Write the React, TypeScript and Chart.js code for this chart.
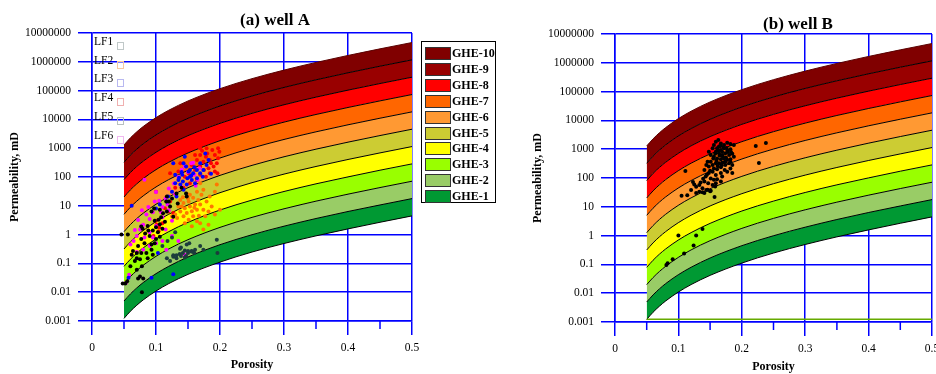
import React, { useEffect, useRef } from 'react';
import { Chart, registerables } from 'chart.js';

Chart.register(...registerables);

const SERIF = "'Liberation Serif', 'Times New Roman', serif";
const GRID = '#0000ff';

// ---- Axis ticks ----
const yTicks = [0.001, 0.01, 0.1, 1, 10, 100, 1000, 10000, 100000, 1000000, 10000000];
const xTicks = [0, 0.1, 0.2, 0.3, 0.4, 0.5];
const xMinorTicks = [0.05, 0.15, 0.25, 0.35, 0.45];

// ---- GHE boundary curves (porosity vs permeability, mD) ----
const porosity = [0.05, 0.06, 0.07, 0.08, 0.1, 0.12, 0.15, 0.2, 0.25, 0.3, 0.35, 0.4, 0.45, 0.5];
const gheBound0 = [0.00123, 0.00218, 0.00353, 0.00539, 0.011, 0.0199, 0.0416, 0.111, 0.248, 0.491, 0.904, 1.58, 2.68, 4.46];
const gheBound1 = [0.00494, 0.00871, 0.0141, 0.0216, 0.044, 0.0795, 0.167, 0.446, 0.99, 1.96, 3.62, 6.34, 10.7, 17.8];
const gheBound2 = [0.0198, 0.0349, 0.0566, 0.0863, 0.176, 0.318, 0.666, 1.78, 3.96, 7.86, 14.5, 25.4, 43.0, 71.3];
const gheBound3 = [0.079, 0.139, 0.226, 0.345, 0.704, 1.27, 2.66, 7.13, 15.8, 31.4, 57.9, 101, 172, 285];
const gheBound4 = [0.316, 0.558, 0.905, 1.38, 2.82, 5.09, 10.7, 28.5, 63.4, 126, 232, 406, 687, 1141];
const gheBound5 = [1.26, 2.23, 3.62, 5.52, 11.3, 20.4, 42.6, 114, 253, 503, 926, 1622, 2749, 4563];
const gheBound6 = [5.06, 8.92, 14.5, 22.1, 45.1, 81.5, 171, 456, 1014, 2011, 3704, 6490, 10996, 18252];
const gheBound7 = [20.2, 35.7, 57.9, 88.3, 180, 326, 682, 1825, 4056, 8046, 14818, 25958, 43986, 73008];
const gheBound8 = [80.9, 143, 232, 353, 721, 1303, 2728, 7301, 16224, 32184, 59270, 103834, 175943, 292032];
const gheBound9 = [324, 571, 927, 1413, 2884, 5213, 10913, 29203, 64896, 128735, 237082, 415334, 703771, 1168128];
const gheBound10 = [1294, 2284, 3706, 5652, 11537, 20852, 43651, 116813, 259584, 514940, 948326, 1661338, 2815085, 4672512];
const gheBounds = [gheBound0, gheBound1, gheBound2, gheBound3, gheBound4, gheBound5, gheBound6, gheBound7, gheBound8, gheBound9, gheBound10];

const gheLabels = ['GHE-1', 'GHE-2', 'GHE-3', 'GHE-4', 'GHE-5', 'GHE-6', 'GHE-7', 'GHE-8', 'GHE-9', 'GHE-10'];
const gheColors = ['#009933', '#99cc66', '#99ff00', '#ffff00', '#cccc33', '#ff9933', '#ff6600', '#ff0000', '#990000', '#800000'];

// ---- Well A lithofacies samples [porosity, permeability] ----
const lfLabels = ['LF1', 'LF2', 'LF3', 'LF4', 'LF5', 'LF6'];
const lfColors = ['#000000', '#ff7700', '#0000ff', '#ff0000', '#1c3c3c', '#ff00ff'];
const lfLegendColors = ['#c0c8c8', '#f8c8a0', '#b8b8f0', '#f0b0b0', '#b8c0c0', '#f0b8f0'];

const wellA_LF1 = [
  [0.046, 1.0], [0.056, 1.0], [0.048, 0.02], [0.052, 0.02], [0.055, 0.024], [0.078, 0.01], [0.075, 0.035],
  [0.072, 0.03], [0.07, 0.06], [0.067, 0.12], [0.07, 0.23], [0.072, 0.4], [0.077, 0.23], [0.064, 0.27],
  [0.075, 0.14], [0.07, 0.15], [0.078, 0.08], [0.085, 0.23], [0.093, 0.3], [0.098, 0.5], [0.1, 0.7],
  [0.106, 0.85], [0.1, 1.8], [0.095, 1.4], [0.106, 2.3], [0.098, 3], [0.088, 1.4], [0.083, 1.1], [0.077, 0.7],
  [0.093, 0.45], [0.114, 2.8], [0.104, 3.3], [0.111, 5.5], [0.117, 6.3], [0.106, 7.3], [0.122, 9.5],
  [0.132, 27], [0.14, 42], [0.148, 21], [0.117, 21], [0.09, 0.9], [0.082, 0.5], [0.103, 1.2], [0.11, 1.6],
  [0.087, 2], [0.079, 1.6], [0.095, 0.2], [0.06, 0.08], [0.062, 0.2], [0.087, 0.15], [0.08, 0.03],
  [0.108, 4], [0.12, 14], [0.125, 18], [0.097, 8], [0.093, 6.3], [0.116, 14], [0.077, 1.9], [0.134, 12],
  [0.147, 27], [0.127, 4.2]
];
const wellA_LF2 = [
  [0.138, 16], [0.143, 12.5], [0.145, 8.3], [0.148, 5.6], [0.151, 14], [0.153, 9.5], [0.156, 6.5], [0.158, 4.3],
  [0.161, 11], [0.164, 7.3], [0.166, 16], [0.169, 11], [0.171, 24], [0.174, 7.3], [0.179, 14], [0.184, 21],
  [0.177, 4.3], [0.169, 2.5], [0.164, 2.9], [0.156, 1.95], [0.151, 3.3], [0.143, 4.3], [0.138, 6.3], [0.133, 3.8],
  [0.145, 2.5], [0.14, 9.5], [0.135, 9.5], [0.13, 5], [0.125, 4.3], [0.192, 31], [0.187, 9.5], [0.182, 6.3],
  [0.195, 55], [0.169, 61], [0.164, 31], [0.153, 24], [0.148, 27], [0.158, 19], [0.174, 36], [0.192, 5],
  [0.2, 7.3], [0.182, 2.2], [0.174, 1.5], [0.16, 8.5], [0.15, 18], [0.167, 4.5], [0.142, 20]
];
const wellA_LF3 = [
  [0.143, 300], [0.147, 230], [0.151, 155], [0.141, 120], [0.135, 79], [0.153, 103], [0.158, 135], [0.164, 90],
  [0.169, 135], [0.174, 175], [0.179, 260], [0.182, 390], [0.169, 300], [0.161, 61], [0.148, 55], [0.138, 55],
  [0.13, 61], [0.125, 31], [0.119, 21], [0.117, 14], [0.106, 11], [0.132, 21], [0.143, 36], [0.153, 175],
  [0.127, 300], [0.145, 500], [0.156, 79], [0.149, 90], [0.142, 70], [0.164, 175], [0.173, 103], [0.177, 650],
  [0.13, 120], [0.062, 10], [0.127, 0.042], [0.093, 0.032], [0.057, 0.032], [0.103, 0.23], [0.1, 8],
  [0.14, 150], [0.155, 110], [0.16, 220], [0.136, 95], [0.186, 130]
];
const wellA_LF4 = [
  [0.169, 580], [0.172, 820], [0.174, 340], [0.178, 500], [0.18, 650], [0.184, 390], [0.188, 870], [0.192, 580],
  [0.195, 300], [0.197, 450], [0.199, 750], [0.19, 230], [0.182, 200], [0.175, 175], [0.169, 230], [0.164, 390],
  [0.161, 175], [0.156, 260], [0.151, 135], [0.145, 103], [0.192, 155], [0.196, 135], [0.197, 1000], [0.184, 135],
  [0.178, 103], [0.169, 120], [0.164, 79], [0.153, 61], [0.143, 42], [0.135, 155], [0.13, 42], [0.122, 14],
  [0.114, 8.3], [0.119, 6.3], [0.127, 5.6], [0.101, 2.2], [0.104, 1.3], [0.096, 0.9], [0.122, 135], [0.138, 300],
  [0.169, 1000], [0.179, 1000], [0.161, 580], [0.1, 31], [0.1, 3], [0.11, 2.5], [0.105, 1.8], [0.186, 300]
];
const wellA_LF5 = [
  [0.127, 0.19], [0.132, 0.19], [0.137, 0.21], [0.142, 0.23], [0.15, 0.23], [0.156, 0.27], [0.148, 0.45],
  [0.152, 0.5], [0.161, 0.3], [0.15, 0.27], [0.122, 0.12], [0.1375, 0.32], [0.139, 0.36], [0.145, 0.28],
  [0.147, 0.18], [0.158, 0.25], [0.169, 0.4], [0.195, 0.66], [0.196, 0.23], [0.127, 0.17], [0.117, 0.15],
  [0.155, 0.26], [0.16, 0.23], [0.174, 0.3], [0.139, 0.18], [0.132, 0.15], [0.145, 0.16], [0.118, 0.6],
  [0.125, 0.8], [0.13, 1.2], [0.11, 0.4]
];
const wellA_LF6 = [
  [0.145, 230], [0.15, 150], [0.14, 180], [0.135, 100], [0.128, 60], [0.12, 40], [0.155, 300], [0.16, 120],
  [0.165, 80], [0.13, 25], [0.115, 18], [0.11, 9], [0.105, 15], [0.095, 6], [0.09, 3.5], [0.085, 5], [0.08, 2.2],
  [0.075, 1.5], [0.07, 0.9], [0.065, 0.6], [0.082, 0.8], [0.09, 1.2], [0.1, 2], [0.11, 4], [0.12, 7], [0.125, 3],
  [0.115, 1.5], [0.1, 0.5], [0.09, 0.4], [0.08, 0.3], [0.07, 0.25], [0.06, 0.45], [0.053, 0.021], [0.058, 0.04],
  [0.145, 0.2], [0.135, 0.6], [0.125, 0.9], [0.11, 0.6], [0.095, 0.8], [0.088, 9], [0.1, 30], [0.078, 7],
  [0.082, 80], [0.098, 14], [0.072, 3.2], [0.067, 1.45], [0.077, 2.0], [0.116, 0.3], [0.158, 310], [0.168, 200],
  [0.162, 50], [0.14, 45], [0.118, 11], [0.108, 6]
];

// ---- Well B samples [porosity, permeability] ----
const wellB_points = [
  [0.159, 1820], [0.163, 2100], [0.156, 1400], [0.167, 1585], [0.172, 1400], [0.177, 1690], [0.182, 1510],
  [0.1875, 1400], [0.148, 820], [0.154, 1070], [0.161, 1070], [0.167, 940], [0.172, 1070], [0.177, 940],
  [0.182, 990], [0.164, 720], [0.169, 630], [0.174, 720], [0.18, 630], [0.185, 690], [0.151, 630], [0.156, 550],
  [0.161, 480], [0.167, 445], [0.172, 480], [0.177, 430], [0.182, 445], [0.1875, 550], [0.146, 370], [0.151, 370],
  [0.159, 325], [0.164, 325], [0.169, 340], [0.174, 280], [0.18, 325], [0.185, 280], [0.148, 250], [0.156, 215],
  [0.161, 200], [0.167, 235], [0.173, 190], [0.182, 215], [0.141, 190], [0.148, 148], [0.154, 166], [0.159, 127],
  [0.167, 148], [0.177, 166], [0.185, 148], [0.143, 113], [0.151, 97], [0.156, 87], [0.161, 90], [0.169, 113],
  [0.141, 75], [0.147, 66], [0.154, 57], [0.159, 66], [0.167, 75], [0.133, 57], [0.138, 44], [0.146, 39],
  [0.151, 36], [0.158, 51], [0.141, 30], [0.133, 33], [0.182, 370], [0.174, 370], [0.164, 1230], [0.169, 820],
  [0.154, 280], [0.144, 280], [0.159, 820], [0.168, 280], [0.165, 600], [0.17, 560], [0.175, 520], [0.16, 400],
  [0.178, 800], [0.163, 900], [0.171, 1200], [0.176, 1100], [0.158, 700], [0.166, 1300], [0.173, 350],
  [0.183, 800], [0.155, 480], [0.162, 260], [0.15, 180], [0.145, 130], [0.139, 95], [0.135, 70], [0.128, 50],
  [0.12, 38], [0.125, 60], [0.111, 175], [0.123, 72], [0.105, 24], [0.114, 25], [0.128, 30], [0.138, 32],
  [0.144, 38], [0.15, 35], [0.157, 22], [0.222, 1280], [0.238, 1630], [0.227, 330], [0.1, 1.0], [0.128, 1.0],
  [0.138, 1.7], [0.124, 0.45], [0.109, 0.24], [0.091, 0.15], [0.081, 0.095], [0.083, 0.11]
];
const wellB_baseLine = [[0.05, 0.00125], [0.5, 0.00125]];

// ---- plugins ----
function titlePlugin(text: string, y: number) {
  return {
    id: 'panelTitle',
    afterDraw(chart: any) {
      const { ctx, chartArea } = chart;
      ctx.save();
      ctx.font = `bold 17px ${SERIF}`;
      ctx.fillStyle = '#000';
      ctx.textAlign = 'center';
      ctx.textBaseline = 'middle';
      ctx.fillText(text, chartArea.left + 183, y);
      ctx.restore();
    },
  };
}

const minorTickPlugin = {
  id: 'minorTicks',
  afterDraw(chart: any) {
    const { ctx, chartArea, scales } = chart;
    ctx.save();
    ctx.strokeStyle = GRID;
    ctx.lineWidth = 1.5;
    for (const v of xMinorTicks) {
      const x = scales.x.getPixelForValue(v);
      ctx.beginPath();
      ctx.moveTo(x, chartArea.bottom);
      ctx.lineTo(x, chartArea.bottom + 8);
      ctx.stroke();
    }
    ctx.restore();
  },
};

const gheLegendPlugin = {
  id: 'gheLegend',
  afterDraw(chart: any) {
    const { ctx, chartArea } = chart;
    const left = chartArea.right + 9;
    const top = chartArea.top + 8;
    const w = 74;
    const h = 161;
    ctx.save();
    ctx.fillStyle = '#fff';
    ctx.fillRect(left, top, w, h);
    ctx.strokeStyle = '#000';
    ctx.lineWidth = 1;
    ctx.strokeRect(left + 0.5, top + 0.5, w, h);
    ctx.font = `bold 12px ${SERIF}`;
    ctx.textBaseline = 'middle';
    ctx.textAlign = 'left';
    for (let i = 0; i < gheLabels.length; i++) {
      const idx = gheLabels.length - 1 - i;
      const cy = Math.round(top + 12 + i * 15.9);
      ctx.fillStyle = gheColors[idx];
      ctx.fillRect(left + 4, cy - 6, 25, 12);
      ctx.strokeStyle = '#333';
      ctx.strokeRect(left + 4.5, cy - 5.5, 25, 12);
      ctx.fillStyle = '#000';
      ctx.fillText(gheLabels[idx], left + 31, cy + 0.5);
    }
    ctx.restore();
  },
};

const lfLegendPlugin = {
  id: 'lfLegend',
  afterDraw(chart: any) {
    const { ctx, chartArea } = chart;
    ctx.save();
    ctx.font = `11.5px ${SERIF}`;
    ctx.textBaseline = 'middle';
    ctx.textAlign = 'left';
    for (let i = 0; i < lfLabels.length; i++) {
      const cy = chartArea.top + 9 + i * 18.7;
      ctx.fillStyle = '#000';
      ctx.fillText(lfLabels[i], chartArea.left + 2, cy);
      ctx.strokeStyle = lfLegendColors[i];
      ctx.lineWidth = 1;
      ctx.strokeRect(Math.round(chartArea.left + 25) + 0.5, Math.round(cy) + 0.5, 6, 7);
    }
    ctx.restore();
  },
};

function toXY(points: number[][]) {
  return points.map((p) => ({ x: p[0], y: p[1] }));
}

function bandDatasets() {
  return gheBounds.map((b, i) => ({
    type: 'line',
    label: i === 0 ? 'base' : gheLabels[i - 1],
    data: porosity.map((x, j) => ({ x, y: b[j] })),
    borderColor: i === gheBounds.length - 1 ? '#5a0000' : '#000',
    borderWidth: 1,
    pointRadius: 0,
    fill: i === 0 ? false : '-1',
    backgroundColor: i === 0 ? 'rgba(0,0,0,0)' : gheColors[i - 1],
    cubicInterpolationMode: 'monotone',
    order: 10,
  }));
}

function makeConfig(opts: any) {
  const scatterSets = opts.scatter.map((s: any) => ({
    type: 'scatter',
    label: s.label,
    data: toXY(s.points),
    backgroundColor: s.color,
    borderWidth: 0,
    pointRadius: 2,
    order: 1,
  }));
  const lineSets = (opts.lines || []).map((l: any) => ({
    type: 'line',
    label: l.label,
    data: toXY(l.points),
    borderColor: l.color,
    borderWidth: 1.5,
    pointRadius: 0,
    fill: false,
    order: 2,
  }));
  return {
    type: 'line',
    data: { datasets: [...bandDatasets(), ...lineSets, ...scatterSets] },
    options: {
      responsive: false,
      animation: false,
      devicePixelRatio: 1,
      events: [],
      layout: { padding: opts.padding },
      plugins: {
        legend: { display: false },
        title: { display: false },
        tooltip: { enabled: false },
        filler: { drawTime: 'beforeDatasetsDraw', propagate: false },
      },
      scales: {
        x: {
          type: 'linear',
          min: 0,
          max: 0.5,
          z: 1,
          afterBuildTicks: (s: any) => {
            s.ticks = xTicks.map((v) => ({ value: v }));
          },
          afterFit: (s: any) => {
            s.height = opts.xHeight;
            s.paddingLeft = 0;
            s.paddingRight = 0;
          },
          grid: { color: GRID, lineWidth: 1.5, tickLength: 14, tickColor: GRID, tickWidth: 1.5 },
          border: { color: GRID, width: 1.5 },
          ticks: {
            color: '#000',
            font: { family: SERIF, size: 11.5 },
            padding: 6,
            maxRotation: 0,
            autoSkip: false,
            callback: (v: any) => String(v),
          },
          title: {
            display: true,
            text: 'Porosity',
            color: '#000',
            font: { family: SERIF, size: 12, weight: 'bold' },
            padding: { top: 0, bottom: opts.xTitlePad },
          },
        },
        y: {
          type: 'logarithmic',
          min: 0.001,
          max: 10000000,
          z: 1,
          afterBuildTicks: (s: any) => {
            s.ticks = yTicks.map((v) => ({ value: v }));
          },
          afterFit: (s: any) => {
            s.width = 92;
          },
          grid: { color: GRID, lineWidth: 1.5, tickLength: 14, tickColor: GRID, tickWidth: 1.5 },
          border: { color: GRID, width: 1.5 },
          ticks: {
            color: '#000',
            font: { family: SERIF, size: 11.5 },
            padding: 7,
            autoSkip: false,
            callback: (v: any) => String(v),
          },
          title: {
            display: true,
            text: 'Permeability, mD',
            color: '#000',
            font: { family: SERIF, size: 12, weight: 'bold' },
            padding: { top: 8, bottom: 0 },
          },
        },
      },
    },
    plugins: opts.plugins,
  };
}

function Panel(props: any) {
  const ref = useRef<HTMLCanvasElement | null>(null);
  useEffect(() => {
    if (!ref.current) return;
    const chart = new Chart(ref.current, makeConfig(props.opts) as any);
    return () => chart.destroy();
  }, []);
  return (
    <canvas
      ref={ref}
      width={props.width}
      height={374}
      style={{ position: 'absolute', left: props.left, top: 0, width: props.width, height: 374 }}
    />
  );
}

const panelA = {
  padding: { left: 0, right: 111, top: 33, bottom: 0 },
  xHeight: 53,
  xTitlePad: 2,
  scatter: [
    { label: lfLabels[4], color: lfColors[4], points: wellA_LF5 },
    { label: lfLabels[0], color: lfColors[0], points: wellA_LF1 },
    { label: lfLabels[1], color: lfColors[1], points: wellA_LF2 },
    { label: lfLabels[2], color: lfColors[2], points: wellA_LF3 },
    { label: lfLabels[5], color: lfColors[5], points: wellA_LF6 },
    { label: lfLabels[3], color: lfColors[3], points: wellA_LF4 },
  ],
  lines: [],
  plugins: [titlePlugin('(a) well A', 21), minorTickPlugin, gheLegendPlugin, lfLegendPlugin],
};

const panelB = {
  padding: { left: 0, right: 1, top: 34, bottom: 0 },
  xHeight: 52,
  xTitlePad: 0,
  scatter: [{ label: 'well B', color: '#000000', points: wellB_points }],
  lines: [{ label: 'limit', color: '#66aa00', points: wellB_baseLine }],
  plugins: [titlePlugin('(b) well B', 25), minorTickPlugin],
};

export default function App() {
  return (
    <div
      style={{
        position: 'fixed',
        left: 0,
        top: 0,
        width: 936,
        height: 374,
        overflow: 'hidden',
        background: '#fff',
      }}
    >
      <Panel left={0} width={523} opts={panelA} />
      <Panel left={523} width={413} opts={panelB} />
    </div>
  );
}
